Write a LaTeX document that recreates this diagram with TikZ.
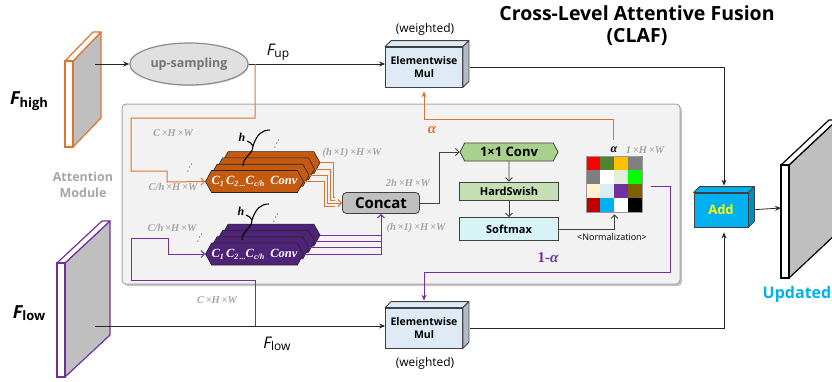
\documentclass[tikz,border=0pt]{standalone}
\usepackage{fontspec}
\setmainfont{Open Sans}
\newfontfamily\dimfont{Liberation Serif}
\usetikzlibrary{arrows.meta,shapes.symbols,shapes.geometric,shadows}

\definecolor{orline}{HTML}{DD7530}
\definecolor{orfill}{HTML}{C55A11}
\definecolor{puline}{HTML}{7030A0}
\definecolor{pufill}{HTML}{4F2377}
\definecolor{dimgray}{HTML}{A6A6A6}
\definecolor{modfill}{HTML}{F2F2F2}
\definecolor{mulfill}{HTML}{DEEBF7}
\definecolor{convfill}{HTML}{A9D18E}
\definecolor{hsfill}{HTML}{C5E0B4}
\definecolor{smfill}{HTML}{D7F3F6}
\definecolor{addfill}{HTML}{00B0F0}
\definecolor{addtext}{HTML}{FFFF00}
\definecolor{catfill}{HTML}{BFBFBF}
% attention map cells
\definecolor{cA1}{HTML}{FF0000}\definecolor{cA2}{HTML}{548235}\definecolor{cA3}{HTML}{FFC000}\definecolor{cA4}{HTML}{808080}
\definecolor{cB1}{HTML}{7F7F7F}\definecolor{cB2}{HTML}{FFFFFF}\definecolor{cB3}{HTML}{E2EFDA}\definecolor{cB4}{HTML}{00FF00}
\definecolor{cC1}{HTML}{FFF2CC}\definecolor{cC2}{HTML}{DDEBF7}\definecolor{cC3}{HTML}{7030A0}\definecolor{cC4}{HTML}{7F6000}
\definecolor{cD1}{HTML}{C00000}\definecolor{cD2}{HTML}{00B0F0}\definecolor{cD3}{HTML}{FFFFFF}\definecolor{cD4}{HTML}{000000}

\newcommand{\lowidx}[1]{\raisebox{-0.35ex}{\fontsize{8}{8}\selectfont #1}}
\newcommand{\fname}[3]{{\fontsize{#1}{#1}\selectfont\itshape F}\raisebox{-0.45ex}{\fontsize{#2}{#2}\selectfont #3}}
\newcommand{\convtext}{C\lowidx{1}\,C\lowidx{2}\lowidx{\,...}C\lowidx{c/h}\hspace{6pt}Conv}

% feature map seen at an angle: x, top y, height, depth x, depth y, outline
\newcommand{\slab}[6]{%
  \filldraw[draw=#6,fill=black!25,line width=1.2pt,line join=round]
    (#1+8,#2) -- ++(#4,-#5) -- ++(0,#3) -- (#1+8,#2+#3) -- cycle;
  \filldraw[draw=#6,fill=white,line width=1.2pt,line join=round]
    (#1,#2) -- ++(#4,-#5) -- ++(8,0) -- (#1+8,#2) -- cycle;
  \filldraw[draw=#6,fill=white,line width=1.2pt] (#1,#2) rectangle (#1+8,#2+#3);}

% top and side faces of a box node
\newcommand{\boxsides}[3]{%
  \filldraw[fill=#3,draw=black!75,line join=round] (#1.north west) -- ++(#2,-#2)
    -- ([shift={(#2,-#2)}]#1.north east) -- (#1.north east) -- cycle;
  \filldraw[fill=#3!80!black,draw=black!75,line join=round] (#1.north east) -- ++(#2,-#2)
    -- ([shift={(#2,-#2)}]#1.south east) -- (#1.south east) -- cycle;}

% head split mark above a conv stack
\newcommand{\splitmark}[2]{%
  \begin{scope}[shift={(#1,#2)}]
    \draw[line width=1.1pt] (-10,20) .. controls (-10,10) and (0,9) .. (0,0);
    \draw[line width=1.1pt] (0,0) .. controls (-2,-3) .. (-6,-5);
    \draw[line width=1.1pt] (0,0) .. controls (4,-12) and (9,-16) .. (17,-16);
    \node[font=\dimfont\bfseries\itshape\fontsize{12}{12}\selectfont] at (-11,-9) {h};
    \node[rotate=-25,inner sep=0pt,font=\fontsize{8}{8}\selectfont] at (25,-5) {$\vdots$};
  \end{scope}}

\begin{document}
\begin{tikzpicture}[x=1pt,y=-1pt,>={Stealth[length=6pt,width=5pt]},line width=0.8pt,
    flow/.style={->,draw=black!85},
    openarrow/.style={-{Straight Barb[length=3.5pt,width=7pt]}},
    orpath/.style={draw=orline,line width=1pt},
    pupath/.style={draw=puline,line width=1pt},
    box/.style={draw=black!75,inner sep=0pt,font=\bfseries\fontsize{11}{13}\selectfont},
    mulbox/.style={box,fill=mulfill,minimum width=77,minimum height=40,align=center,
      font=\bfseries\fontsize{10.5}{13}\selectfont},
    hexconv/.style={shape=signal,signal to=east and west,signal pointer angle=122,
      draw=black!85,line width=0.6pt,minimum width=98,minimum height=22,inner sep=0pt,
      text=white,font=\dimfont\bfseries\itshape\fontsize{12.5}{13}\selectfont},
    dimlab/.style={text=dimgray,inner sep=0pt,font=\dimfont\bfseries\itshape\fontsize{10.5}{11}\selectfont},
    note/.style={inner sep=0pt,font=\fontsize{12}{14}\selectfont}]

    \useasboundingbox (0,0) rectangle (832,381);
    \clip (0,0) rectangle (832,381);

    % attention module frame
    \draw[draw=black!35,fill=modfill,rounded corners=4pt,line width=1pt,
      drop shadow={shadow xshift=2pt,shadow yshift=-2pt,fill=black!45}] (122,104) rectangle (680,284);

    % feature maps
    \slab{65}{61}{86}{28}{29}{orline}
    \slab{57}{263}{114}{45}{42}{puline}
    \slab{781}{165}{113}{48}{45}{black}
    \coordinate (hi) at (95,64);
    \coordinate (lo) at (95,326);
    \coordinate (upd) at (781,208);
    \coordinate (tap) at (255,64);
    \coordinate (tapl) at (255,326);

    % Define vertices
    \node[ellipse,draw=black!45,fill=black!12,line width=1.2pt,minimum width=100,minimum height=42,
      text=black!55,font=\bfseries\fontsize{12.5}{14}\selectfont,
      drop shadow={shadow xshift=1pt,shadow yshift=-1pt,fill=black!25}] (up) at (189,64) {up-sampling};
    \node[mulbox] (mulhi) at (424,67) {Elementwise\\Mul};
    \node[mulbox] (mullo) at (424,328) {Elementwise\\Mul};
    \node[box,fill=catfill,rounded corners=4pt,minimum width=77,minimum height=21,
      font=\bfseries\fontsize{15}{16}\selectfont] (concat) at (381,203) {Concat};
    \node[box,shape=signal,signal to=east and west,signal pointer angle=125,fill=convfill,
      minimum width=98,minimum height=18,font=\bfseries\fontsize{13}{14}\selectfont] (conv1) at (509,152) {1×1 Conv};
    \node[box,fill=hsfill,minimum width=99,minimum height=18] (hswish) at (509,191) {HardSwish};
    \node[box,fill=smfill,minimum width=99,minimum height=23] (smax) at (509,229) {Softmax};
    \node[box,fill=addfill,text=addtext,minimum width=54,minimum height=34,
      font=\bfseries\fontsize{13}{14}\selectfont] (add) at (721,210) {Add};
    \node[minimum size=55,inner sep=0pt] (amap) at (614.5,184.5) {};
    \boxsides{mulhi}{6}{mulfill}
    \boxsides{mullo}{6}{mulfill}
    \boxsides{add}{6}{addfill}

    % conv stacks, back layer first
    \foreach \i in {3,2,1,0} {
      \node[hexconv,fill=orfill] (hic\i) at ({254.5+5.5*\i},{181.5-6.3*\i}) {\ifnum\i=0 \convtext\fi};
      \node[hexconv,fill=pufill] (loc\i) at ({254.5+5.5*\i},{254-6.3*\i}) {\ifnum\i=0 \convtext\fi};
    }
    \splitmark{253}{146}
    \splitmark{252}{220}
    \node[rotate=-25,inner sep=0pt,font=\fontsize{8}{8}\selectfont] at (191,165) {$\vdots$};
    \node[rotate=-25,inner sep=0pt,font=\fontsize{8}{8}\selectfont] at (201,235) {$\vdots$};

    % attention map
    \foreach \r/\cl in {0/{cA1,cA2,cA3,cA4},1/{cB1,cB2,cB3,cB4},2/{cC1,cC2,cC3,cC4},3/{cD1,cD2,cD3,cD4}}
      \foreach \cc [count=\j from 0] in \cl
        \fill[\cc] ([shift={(\j*13.75,\r*13.75)}]amap.north west) rectangle ++(13.75,13.75);
    \draw[black!40,line width=0.6pt] (amap.north west) rectangle (amap.south east);
    \coordinate (atop) at (613,140);
    \coordinate (aside) at (651,186);

    % Draw edges
    \draw[flow] (hi) -- (up);
    \draw[flow] (up) -- (mulhi.west |- up.east);
    \draw[flow] (lo) -- (mullo.west |- lo);
    \draw[flow,shorten <=7pt,shorten >=7pt] (mulhi.east) -| ([xshift=3pt]add.north);
    \draw[flow,shorten <=7pt,shorten >=5pt] (mullo.east) -| ([xshift=3pt]add.south);
    \draw[flow,shorten <=7pt] (add.east) -- (upd);

    \draw[orpath,openarrow] (tap) -- (255,118) -- (131,118) -- (131,171) -- (167,171) -- (167,182) -- (hic0.west);
    \draw[pupath,openarrow] (tapl) -- (255,280) -- (131,280) -- (131,238) -- (168,238) -- (168,254) -- (loc0.west);
    \foreach \i in {0,...,3}
      \draw[orpath,line width=0.8pt] (hic\i.east) -| (324+3*\i,206-3*\i) -- (335,206-3*\i);
    \draw[orpath,openarrow] (335,203) -- (concat.west);
    \foreach \i in {1,2,3}
      \draw[pupath,line width=0.8pt] (loc\i.east) -- (concat.south |- loc\i.east);
    \draw[pupath,openarrow] (loc0.east) -| (concat.south);

    \draw[black!75,openarrow] (concat.east) -- ++(19,0) |- (conv1.west);
    \draw[black!75,openarrow] (conv1) -- (hswish);
    \draw[black!75,openarrow] (hswish) -- (smax);
    \draw[black!75,openarrow,shorten >=2pt] (smax.east) -| (amap.south);

    \draw[orpath,->,shorten >=4pt] (atop) |- (mulhi.south |- 0,119) -- (mulhi.south);
    \draw[pupath,->,shorten >=7pt] (aside) -- (670,186) -- (670,272) -| (mullo.north);

    % labels
    \node[font=\bfseries\fontsize{19.5}{22}\selectfont,align=center] at (637,26) {Cross-Level Attentive Fusion\\(CLAF)};
    \node[font=\bfseries] at (29,101) {\fname{18}{13}{high}};
    \node[font=\bfseries] at (29,313) {\fname{18}{13}{low}};
    \node at (278,52) {\fname{16}{12}{up}};
    \node at (277,344) {\fname{16}{12}{low}};
    \node[note] at (425,29) {(weighted)};
    \node[note] at (425,363) {(weighted)};
    \node[text=black!35,align=center,font=\bfseries\fontsize{12.5}{16}\selectfont] at (83,185) {Attention\\Module};
    \node[text=addfill,font=\bfseries\fontsize{16}{18}\selectfont] at (797,294) {Updated};
    \node[note,font=\fontsize{9}{10}\selectfont] at (612,237) {<Normalization>};
    \node[text=orline,font=\dimfont\bfseries\itshape\fontsize{15}{15}\selectfont] at (432,130) {α};
    \node[text=puline,font=\dimfont\bfseries\fontsize{15}{15}\selectfont] at (548,258) {1-\textit{α}};
    \node[font=\dimfont\bfseries\itshape\fontsize{12}{12}\selectfont] at (614,150) {α};

    \node[dimlab] at (173,133) {C\,×H\,×W};
    \node[dimlab] at (173,187) {C/h\,×H\,×W};
    \node[dimlab] at (352,153) {(h\,×1)\,×H\,×W};
    \node[dimlab] at (408,183) {2h\,×H\,×W};
    \node[dimlab] at (172,228) {C/h\,×H\,×W};
    \node[dimlab] at (416,228) {(h\,×1)\,×H\,×W};
    \node[dimlab] at (217,300) {C\,×H\,×W};
    \node[dimlab] at (645,150) {1\,×H\,×W};
\end{tikzpicture}
\end{document}
